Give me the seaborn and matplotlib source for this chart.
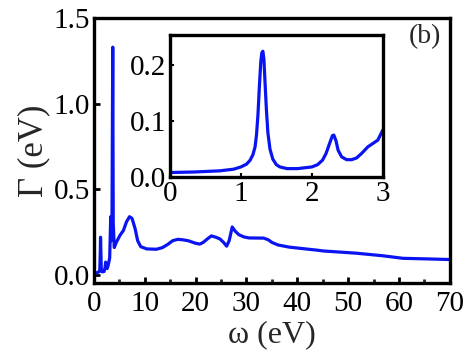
import matplotlib
matplotlib.use("Agg")
import matplotlib.pyplot as plt
import seaborn as sns
import pandas as pd

# Main curve: Gamma (eV) vs omega (eV)
omega = [0.0, 0.5, 1.0, 1.15, 1.25, 1.3, 1.35, 1.45, 1.6, 2.0, 2.2, 2.3, 2.4, 2.6, 2.8, 3.0,
         3.1, 3.3, 3.4, 3.55, 3.7, 3.8, 4.0, 4.4, 5.1, 5.8, 6.4, 7.0, 7.5, 8.1, 8.6, 9.2,
         10.4, 12.3, 13.5, 14.5, 15.5, 16.5, 17.5, 18.5, 20.0, 20.8, 21.5, 22.3, 23.1,
         24.0, 24.8, 25.5, 26.1, 26.6, 27.2, 27.8, 28.5, 29.5, 30.5, 33.4, 34.3, 35.0,
         36.2, 38.5, 43.8, 45.1, 51.6, 56.8, 60.8, 65.0, 70.0]
gamma = [0.01, 0.012, 0.018, 0.03, 0.13, 0.22, 0.16, 0.03, 0.018, 0.02, 0.045, 0.075, 0.042,
         0.037, 0.056, 0.085, 0.10, 0.34, 0.20, 0.30, 1.33, 0.30, 0.16, 0.19, 0.23, 0.26,
         0.31, 0.34, 0.33, 0.27, 0.20, 0.165, 0.152, 0.15, 0.16, 0.178, 0.20, 0.208, 0.205,
         0.20, 0.185, 0.18, 0.19, 0.21, 0.228, 0.22, 0.21, 0.19, 0.168, 0.20, 0.28, 0.255,
         0.235, 0.222, 0.216, 0.215, 0.205, 0.19, 0.175, 0.162, 0.145, 0.14, 0.127, 0.112,
         0.097, 0.094, 0.09]

# Inset curve (0-3 eV)
omega_in = [0.0, 0.35, 0.7, 0.9, 1.0, 1.08, 1.13, 1.17, 1.2, 1.22, 1.24, 1.26, 1.28, 1.295,
            1.31, 1.325, 1.34, 1.36, 1.38, 1.41, 1.45, 1.5, 1.55, 1.65, 1.8, 2.0, 2.08, 2.15,
            2.2, 2.25, 2.29, 2.31, 2.34, 2.37, 2.42, 2.49, 2.56, 2.63, 2.7, 2.79, 2.86, 2.93,
            3.0]
gamma_in = [0.008, 0.009, 0.011, 0.014, 0.018, 0.023, 0.03, 0.04, 0.054, 0.075, 0.11, 0.16,
            0.205, 0.222, 0.225, 0.21, 0.17, 0.12, 0.08, 0.05, 0.032, 0.022, 0.018, 0.015,
            0.015, 0.018, 0.022, 0.03, 0.042, 0.06, 0.074, 0.075, 0.065, 0.048, 0.036, 0.031,
            0.031, 0.034, 0.042, 0.054, 0.06, 0.066, 0.084]

main_ticks = [0, 10, 20, 30, 40, 50, 60, 70]
main_yticks = [0.0, 0.5, 1.0, 1.5]
inset_xticks = [0, 1, 2, 3]
inset_yticks = [0.0, 0.1, 0.2]

sns.set_theme(style="white")
plt.rcParams['font.family'] = ['Liberation Serif', 'DejaVu Serif']

blue = '#0a14f0'
fig = plt.figure(figsize=(4.72, 3.54), dpi=100)
ax = fig.add_axes([0.199, 0.2006, 0.754, 0.7484])
df = pd.DataFrame({'w': omega, 'g': gamma})
sns.lineplot(data=df, x='w', y='g', ax=ax, color=blue, lw=2.3, estimator=None, sort=False)
ax.set_xlim(0, 70)
ax.set_ylim(-0.047, 1.5)
ax.set_xticks(main_ticks)
ax.set_xticks(range(5, 70, 10), minor=True)
ax.set_yticks(main_yticks)
ax.set_yticklabels([f"{v:.1f}" for v in main_yticks])
ax.tick_params(axis='both', which='major', direction='in', length=4, width=2,
               labelsize=21, colors='black', pad=3)
ax.tick_params(axis='x', which='major', pad=6)
ax.tick_params(axis='x', which='minor', direction='in', length=3, width=2, bottom=True)
ax.tick_params(axis='x', which='major', bottom=True)
ax.tick_params(axis='y', which='major', left=True)
for s in ax.spines.values():
    s.set_linewidth(2.4)
    s.set_color('black')
ax.set_xlabel('ω (eV)', fontsize=23, labelpad=2)
ax.set_ylabel('Γ (eV)', fontsize=25, labelpad=2)
ax.text(0.975, 0.93, '(b)', transform=ax.transAxes, fontsize=20, ha='right', va='center')

ins = fig.add_axes([0.360, 0.5, 0.451, 0.401])
dfi = pd.DataFrame({'w': omega_in, 'g': gamma_in})
sns.lineplot(data=dfi, x='w', y='g', ax=ins, color=blue, lw=2.3, estimator=None, sort=False)
ins.set_xlim(0, 3)
ins.set_ylim(0.0, 0.254)
ins.set_xticks(inset_xticks)
ins.set_yticks(inset_yticks)
ins.set_yticklabels([f"{v:.1f}" for v in inset_yticks])
ins.tick_params(axis='both', which='major', direction='in', length=3, width=1.5,
                labelsize=21, colors='black', pad=3, bottom=True, left=True)
for s in ins.spines.values():
    s.set_linewidth(2.4)
    s.set_color('black')
ins.set_xlabel('')
ins.set_ylabel('')

fig.savefig('out.png', dpi=100)
